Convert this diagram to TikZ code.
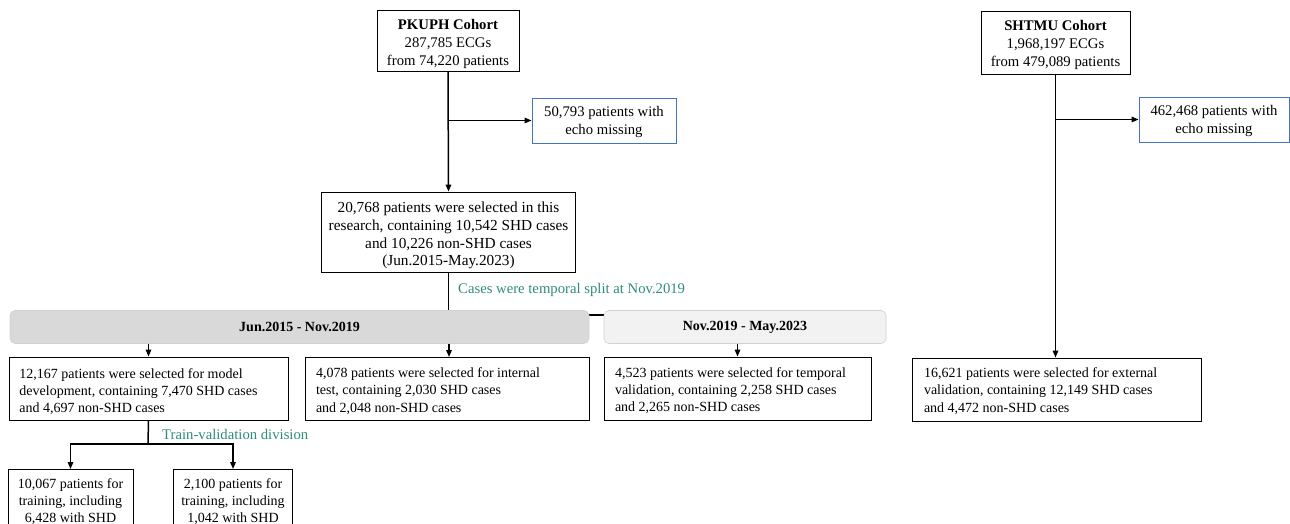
\documentclass[tikz,border=0pt]{standalone}
\usepackage{fontspec}
\setmainfont{Liberation Serif}
\usetikzlibrary{arrows.meta}
\definecolor{tealtxt}{RGB}{47,139,124}
\definecolor{blueb}{RGB}{68,114,196}
\definecolor{bardark}{RGB}{217,217,217}
\definecolor{barlight}{RGB}{242,242,242}
% fixed-size text boxes, text moved slightly down: {height}{width}{shift}{text}
\newcommand{\cbx}[4]{\parbox[c][#1][c]{#2}{\centering\vspace*{#3}#4}}
\newcommand{\lbx}[4]{\parbox[c][#1][c]{#2}{\raggedright\vspace*{#3}#4}}
\begin{document}
\begin{tikzpicture}[x=1pt,y=-1pt,
  fs/.style={font=\fontsize{14}{17.2}\selectfont},
  ft/.style={font=\fontsize{14}{16.8}\selectfont},
  fm/.style={font=\fontsize{14.7}{18}\selectfont},
  fl/.style={font=\fontsize{15.3}{17.8}\selectfont},
  box/.style={draw=black, line width=0.9pt, inner sep=0pt, align=center},
  mbox/.style={box, draw=blueb},
  bar/.style={draw=black!18, line width=0.6pt, rounded corners=5pt, inner sep=0pt, font=\fontsize{14}{17}\selectfont\bfseries},
  conn/.style={line width=1.5pt},
  arr/.style={conn, -{Triangle[length=7pt,width=5.5pt]}},
  lab/.style={fm, text=tealtxt, inner sep=0pt, anchor=west}]
\useasboundingbox (0,0) rectangle (1290,524);
% nodes
\node[box, fm, minimum width=142, minimum height=61] (pk) at (448,40.5) {\cbx{61pt}{140pt}{7pt}{\textbf{PKUPH Cohort}\\287,785 ECGs\\from 74,220 patients}};
\node[mbox, fm, minimum width=144, minimum height=45] (m1) at (604,120.5) {\cbx{45pt}{142pt}{3pt}{50,793 patients with\\echo missing}};
\node[box, fl, minimum width=254, minimum height=80] (sel) at (448.5,232) {\cbx{80pt}{252pt}{7pt}{20,768 patients were selected in this\\research, containing 10,542 SHD cases\\and 10,226 non-SHD cases\\(Jun.2015-May.2023)}};
\coordinate (split) at (448.5,315);
\draw[conn] (sel.south) -- (split) -- (604,315);
\node[bar, fill=bardark, minimum width=579, minimum height=33] (b1) at (299.5,327) {Jun.2015 - Nov.2019};
\node[bar, fill=barlight, minimum width=282, minimum height=33] (b2) at (745,327) {Nov.2019 - May.2023};
\node[lab] (l1) at (458,290) {Cases were temporal split at Nov.2019};
\node[box, fs, minimum width=279, minimum height=63] (dev) at (148.5,388.5) {\lbx{63pt}{258pt}{6pt}{12,167 patients were selected for model\\development, containing 7,470 SHD cases\\and 4,697 non-SHD cases}};
\node[box, fs, minimum width=284, minimum height=63] (int) at (447,388.5) {\lbx{63pt}{262pt}{5pt}{4,078 patients were selected for internal\\test, containing 2,030 SHD cases\\and 2,048 non-SHD cases}};
\node[box, fs, minimum width=267, minimum height=63] (tmp) at (737.5,388.5) {\lbx{63pt}{245pt}{4pt}{4,523 patients were selected for temporal\\validation, containing 2,258 SHD cases\\and 2,265 non-SHD cases}};
\node[box, ft, minimum width=125, minimum height=64, anchor=north] (tr) at (70.5,469) {\cbx{64pt}{123pt}{0pt}{10,067 patients for\\training, including\\6,428 with SHD}};
\node[box, ft, minimum width=119, minimum height=64, anchor=north] (va) at (233,469) {\cbx{64pt}{117pt}{0pt}{2,100 patients for\\training, including\\1,042 with SHD}};
\node[lab] (l2) at (162,434) {Train-validation division};
\node[box, fm, minimum width=149, minimum height=63] (sh) at (1055.5,42.5) {\cbx{63pt}{147pt}{5pt}{\textbf{SHTMU Cohort}\\1,968,197 ECGs\\from 479,089 patients}};
\node[mbox, fm, minimum width=150, minimum height=45] (m2) at (1214,119.5) {\cbx{45pt}{148pt}{3pt}{462,468 patients with\\echo missing}};
\node[box, fs, minimum width=289, minimum height=63] (ext) at (1056.5,389.5) {\lbx{63pt}{265pt}{3pt}{16,621 patients were selected for external\\validation, containing 12,149 SHD cases\\and 4,472 non-SHD cases}};
% connectors
\draw[arr] (pk.south) -- (sel.north);
\draw[arr] (pk.south |- m1.west) -- (m1.west);
\draw[arr] (dev.north |- b1.south) -- (dev.north);
\draw[arr] (449,343.5) -- (449,357);
\draw[arr] (tmp.north |- b2.south) -- (tmp.north);
\coordinate (dsplit) at (148,444);
\draw[conn] (dev.south) -- (dsplit);
\draw[arr] (dsplit) -| (tr.north);
\draw[arr] (dsplit) -| (va.north);
\draw[arr] (sh.south) -- (sh.south |- ext.north);
\draw[arr] (sh.south |- m2.west) -- (m2.west);
\end{tikzpicture}
\end{document}
